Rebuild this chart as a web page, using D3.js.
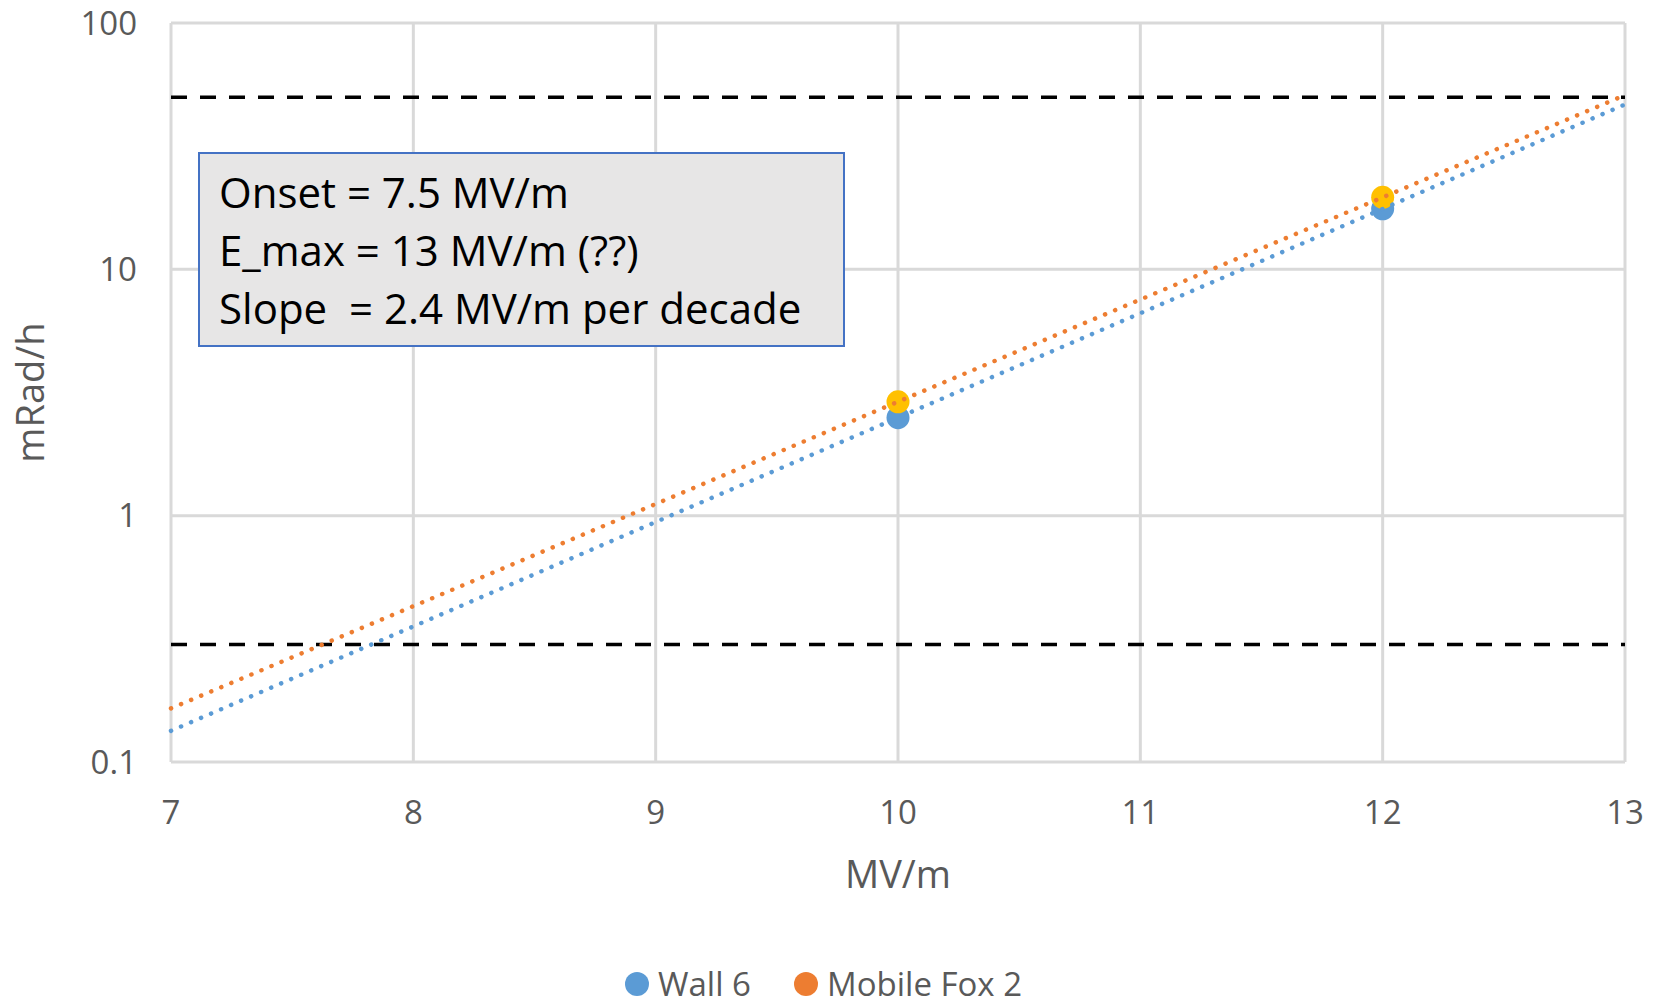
<!DOCTYPE html>
<html>
<head>
<meta charset="utf-8">
<script src="https://cdn.jsdelivr.net/npm/d3@7"></script>
<style>
  html, body { margin: 0; padding: 0; background: #fff; }
  svg { display: block; font-family: "Open Sans", sans-serif; }
</style>
</head>
<body>
<svg id="chart" width="1669" height="1008"></svg>
<script>
const WIDTH = 1669;
const HEIGHT = 1008;

// data
const fieldX = [10, 12];                    // MV/m
const wall6 = [2.5, 17.6];                  // mRad/h
const fox2 = [2.9, 19.6];                   // mRad/h
const limitLines = [50, 0.3];               // dashed levels
const xTicks = [7, 8, 9, 10, 11, 12, 13];
const yTicks = [0.1, 1, 10, 100];
const noteLines = [
    "Onset = 7.5 MV/m",
    "E_max = 13 MV/m (??)",
    "Slope  = 2.4 MV/m per decade"
];

const series = [
    { name: "Wall 6", values: wall6, marker: "#5B9BD5", trend: "#5B9BD5", legend: "#5B9BD5" },
    { name: "Mobile Fox 2", values: fox2, marker: "#FFC000", trend: "#ED7D31", legend: "#ED7D31" }
];

const m = { left: 171, right: WIDTH - 1625, top: 23, bottom: HEIGHT - 762 };

const x = d3.scaleLinear().domain([7, 13]).range([m.left, WIDTH - m.right]);
const y = d3.scaleLog().domain([0.1, 100]).range([HEIGHT - m.bottom, m.top]);

const svg = d3.select("#chart");

// exponential trendline (least squares in log space)
let expFit = (xs, ys) => {
    const ly = ys.map(v => Math.log10(v));
    const mx = d3.mean(xs);
    const my = d3.mean(ly);
    let sxy = 0, sxx = 0;
    xs.forEach((xv, i) => {
        sxy += (xv - mx) * (ly[i] - my);
        sxx += (xv - mx) * (xv - mx);
    });
    const b = sxy / sxx;
    return xv => Math.pow(10, my + b * (xv - mx));
};

// grid
const grid = svg.append("g").attr("stroke", "#d9d9d9").attr("stroke-width", 3);
grid.selectAll(".vg")
    .data(xTicks)
    .join("line")
    .attr("x1", d => x(d)).attr("x2", d => x(d))
    .attr("y1", y(0.1)).attr("y2", y(100));
grid.selectAll(".hg")
    .data(yTicks)
    .join("line")
    .attr("x1", x(7)).attr("x2", x(13))
    .attr("y1", d => y(d)).attr("y2", d => y(d));

// tick labels
svg.append("g")
    .selectAll("text")
    .data(yTicks)
    .join("text")
    .attr("x", m.left - 34)
    .attr("y", d => y(d))
    .attr("dy", "0.35em")
    .attr("text-anchor", "end")
    .attr("fill", "#595959")
    .attr("font-size", 33)
    .text(d => d3.format("~g")(d));

svg.append("g")
    .selectAll("text")
    .data(xTicks)
    .join("text")
    .attr("x", d => x(d))
    .attr("y", 812)
    .attr("dy", "0.35em")
    .attr("text-anchor", "middle")
    .attr("fill", "#595959")
    .attr("font-size", 33)
    .text(d => d);

// axis titles
svg.append("text")
    .attr("x", (x(7) + x(13)) / 2)
    .attr("y", 875)
    .attr("dy", "0.35em")
    .attr("text-anchor", "middle")
    .attr("fill", "#595959")
    .attr("font-size", 38)
    .text("MV/m");

svg.append("text")
    .attr("transform", `translate(31,${(y(0.1) + y(100)) / 2}) rotate(-90)`)
    .attr("dy", "0.35em")
    .attr("text-anchor", "middle")
    .attr("fill", "#595959")
    .attr("font-size", 38)
    .text("mRad/h");

// dashed limit lines
svg.append("g")
    .selectAll("line")
    .data(limitLines)
    .join("line")
    .attr("x1", x(7)).attr("x2", x(13))
    .attr("y1", d => y(d)).attr("y2", d => y(d))
    .attr("stroke", "#000")
    .attr("stroke-width", 3.5)
    .attr("stroke-dasharray", "16 13");

// markers
series.forEach(s => {
    svg.append("g")
        .selectAll("circle")
        .data(s.values)
        .join("circle")
        .attr("cx", (d, i) => x(fieldX[i]))
        .attr("cy", d => y(d))
        .attr("r", 11.5)
        .attr("fill", s.marker);
});

// trendlines
series.forEach(s => {
    const f = expFit(fieldX, s.values);
    const line = d3.line().x(d => x(d)).y(d => y(f(d)));
    svg.append("path")
        .attr("d", line([7, 13]))
        .attr("fill", "none")
        .attr("stroke", s.trend)
        .attr("stroke-width", 4.5)
        .attr("stroke-linecap", "round")
        .attr("stroke-dasharray", "0.1 10.8");
});

// note box
const note = svg.append("g");
note.append("rect")
    .attr("x", 199).attr("y", 153)
    .attr("width", 645).attr("height", 193)
    .attr("fill", "#e7e6e6")
    .attr("stroke", "#4472C4")
    .attr("stroke-width", 2);
note.selectAll("text")
    .data(noteLines)
    .join("text")
    .attr("x", 219)
    .attr("y", (d, i) => 193 + i * 58)
    .attr("dy", "0.35em")
    .attr("fill", "#000")
    .attr("font-size", 42)
    .style("white-space", "pre")
    .text(d => d);

// legend
const legend = svg.append("g");
const legendX = [637, 806];
series.forEach((s, i) => {
    legend.append("circle")
        .attr("cx", legendX[i]).attr("cy", 984)
        .attr("r", 12)
        .attr("fill", s.legend);
    legend.append("text")
        .attr("x", legendX[i] + 21).attr("y", 984)
        .attr("dy", "0.35em")
        .attr("fill", "#595959")
        .attr("font-size", 33)
        .text(s.name);
});
</script>
</body>
</html>
